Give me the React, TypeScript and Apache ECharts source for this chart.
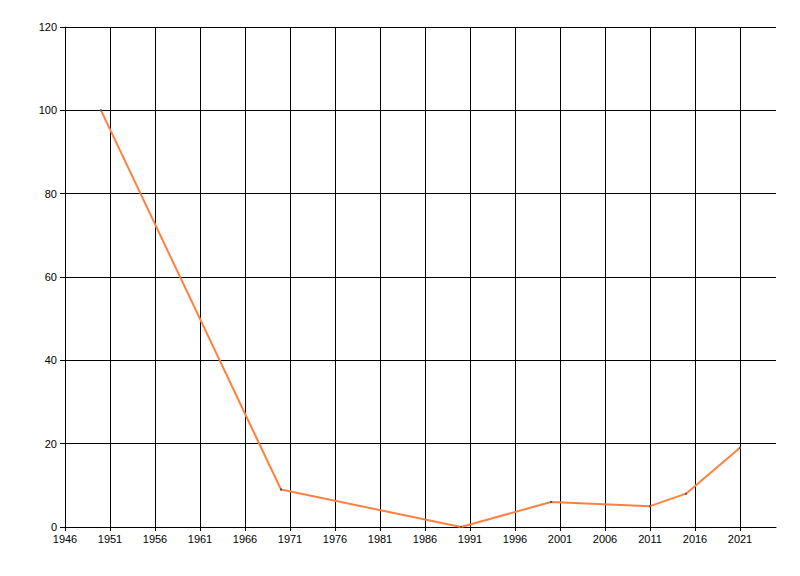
import React, { useEffect, useRef } from "react";
import * as echarts from "echarts";

const years = [1950, 1970, 1990, 2000, 2011, 2015, 2021];
const values = [100, 9, 0, 6, 5, 8, 19];
const xMin = 1946;
const xMax = 2025;
const xStep = 5;
const yMin = 0;
const yMax = 120;
const yStep = 20;

export default function App() {
  const ref = useRef<HTMLDivElement>(null);
  useEffect(() => {
    if (!ref.current) return;
    const chart = echarts.init(ref.current, null, { renderer: "svg" });
    const font = { fontFamily: "Liberation Sans, Arial, sans-serif", fontSize: 11, color: "#000" };
    chart.setOption({
      animation: false,
      backgroundColor: "#fff",
      grid: { left: 65, top: 27, right: 24, bottom: 49, containLabel: false },
      xAxis: {
        type: "value",
        min: xMin,
        max: xMax,
        interval: xStep,
        axisLine: { show: true, lineStyle: { color: "#000", width: 1 } },
        axisTick: { show: true, length: 4, lineStyle: { color: "#000" } },
        axisLabel: { ...font, margin: 6, showMaxLabel: false, formatter: (v: number) => String(v) },
        splitLine: { show: true, showMaxLine: false, lineStyle: { color: "#000", width: 1 } },
      },
      yAxis: {
        type: "value",
        min: yMin,
        max: yMax,
        interval: yStep,
        axisLine: { show: true, lineStyle: { color: "#000", width: 1 } },
        axisTick: { show: true, length: 5, lineStyle: { color: "#000" } },
        axisLabel: { ...font, margin: 8 },
        splitLine: { show: true, lineStyle: { color: "#000", width: 1 } },
      },
      series: [
        {
          type: "line",
          data: years.map((y, i) => [y, values[i]]),
          lineStyle: { color: "#FF8040", width: 2 },
          symbol: "rect",
          symbolSize: 2,
          showSymbol: true,
          itemStyle: { color: "#555" },
          z: 5,
        },
      ],
    });
    return () => chart.dispose();
  }, []);
  return (
    <div
      ref={ref}
      style={{ position: "fixed", left: 0, top: 0, width: 800, height: 576 }}
    />
  );
}
